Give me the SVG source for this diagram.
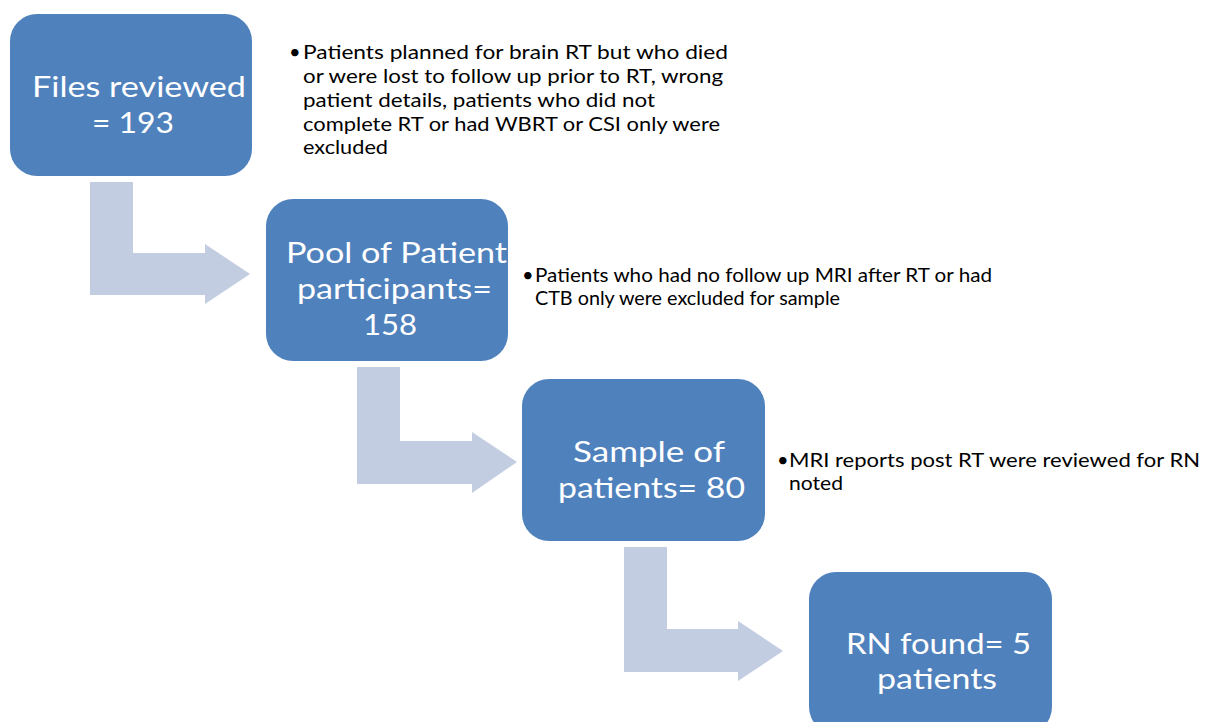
<svg xmlns="http://www.w3.org/2000/svg" width="1205" height="722" viewBox="0 0 1205 722">
<style>
.box{fill:#4F81BD;}
.arrow{fill:#C3CDE2;}
.bt{font-family:Lato,"Open Sans","Liberation Sans",sans-serif;font-size:29px;fill:#FFFFFF;}
.st{font-family:Lato,"Open Sans","Liberation Sans",sans-serif;font-size:20px;fill:#000000;}
</style>
<rect width="1205" height="722" fill="#FFFFFF"/>
<g id="connectors">
<polygon class="arrow" points="90,182 133,182 133,253 205,253 205,244 250,274 205,304 205,295 90,295"/>
<polygon class="arrow" points="357,367 400,367 400,441 472,441 472,432 517,462 472,493 472,484 357,484"/>
<polygon class="arrow" points="624,547 667,547 667,629 738,629 738,621 783,651 738,681 738,672 624,672"/>
</g>
<g id="node-files">
<rect class="box" x="10" y="14" width="242" height="162" rx="27"/>
<text class="bt" x="32" y="97" textLength="214" lengthAdjust="spacingAndGlyphs">Files reviewed</text>
<text class="bt" x="92" y="133" textLength="82" lengthAdjust="spacingAndGlyphs">= 193</text>
</g>
<g id="note-1">
<text class="st" x="289" y="59">•</text>
<text class="st" x="303" y="59" textLength="425" lengthAdjust="spacingAndGlyphs">Patients planned for brain RT but who died</text>
<text class="st" x="303" y="83" textLength="420" lengthAdjust="spacingAndGlyphs">or were lost to follow up prior to RT, wrong</text>
<text class="st" x="303" y="107" textLength="352" lengthAdjust="spacingAndGlyphs">patient details, patients who did not</text>
<text class="st" x="303" y="131" textLength="417" lengthAdjust="spacingAndGlyphs">complete RT or had WBRT or CSI only were</text>
<text class="st" x="303" y="154" textLength="85" lengthAdjust="spacingAndGlyphs">excluded</text>
</g>
<g id="node-pool">
<rect class="box" x="266" y="199" width="242" height="162" rx="27"/>
<text class="bt" x="286" y="263" textLength="221" lengthAdjust="spacingAndGlyphs">Pool of Patient</text>
<text class="bt" x="297" y="299" textLength="195" lengthAdjust="spacingAndGlyphs">participants=</text>
<text class="bt" x="363" y="335" textLength="54" lengthAdjust="spacingAndGlyphs">158</text>
</g>
<g id="note-2">
<text class="st" x="522" y="282">•</text>
<text class="st" x="535" y="282" textLength="457" lengthAdjust="spacingAndGlyphs">Patients who had no follow up MRI after RT or had</text>
<text class="st" x="535" y="305" textLength="305" lengthAdjust="spacingAndGlyphs">CTB only were excluded for sample</text>
</g>
<g id="node-sample">
<rect class="box" x="522" y="379" width="243" height="162" rx="27"/>
<text class="bt" x="573" y="462" textLength="152" lengthAdjust="spacingAndGlyphs">Sample of</text>
<text class="bt" x="558" y="498" textLength="187" lengthAdjust="spacingAndGlyphs">patients= 80</text>
</g>
<g id="note-3">
<text class="st" x="777" y="467">•</text>
<text class="st" x="789" y="467" textLength="411" lengthAdjust="spacingAndGlyphs">MRI reports post RT were reviewed for RN</text>
<text class="st" x="789" y="490" textLength="54" lengthAdjust="spacingAndGlyphs">noted</text>
</g>
<g id="node-rn">
<rect class="box" x="809" y="572" width="243" height="162" rx="27"/>
<text class="bt" x="846" y="654" textLength="185" lengthAdjust="spacingAndGlyphs">RN found= 5</text>
<text class="bt" x="877" y="689" textLength="120" lengthAdjust="spacingAndGlyphs">patients</text>
</g>
</svg>
